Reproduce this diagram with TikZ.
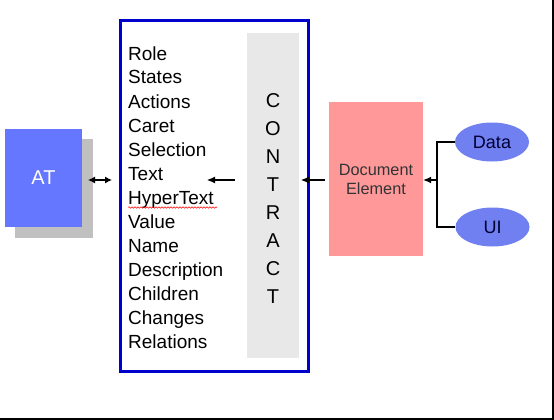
\documentclass[tikz,border=0pt]{standalone}
\usepackage{fontspec}
\setmainfont{Liberation Sans}
\usetikzlibrary{arrows.meta,shapes.geometric,decorations.pathmorphing}
\definecolor{atblue}{RGB}{102,119,255}
\definecolor{ellblue}{RGB}{112,128,240}
\definecolor{shadowgray}{RGB}{192,192,192}
\definecolor{contractgray}{RGB}{232,232,232}
\definecolor{docpink}{RGB}{255,153,153}
\definecolor{boxblue}{RGB}{0,0,204}
\tikzset{
  listitem/.style={anchor=base west,inner sep=0pt,font=\fontsize{19}{24}\selectfont},
  letter/.style={anchor=base,inner sep=0pt,font=\fontsize{20}{24}\selectfont},
  ell/.style={ellipse,fill=ellblue,minimum width=74pt,minimum height=39pt,inner sep=0pt,
    text=black!80!blue,font=\fontsize{18}{20}\selectfont},
  arr/.style={-{Latex[length=8pt,width=7pt]},line width=1.1pt},
}
\begin{document}
\begin{tikzpicture}[x=1pt,y=-1pt]
\useasboundingbox (0,0) rectangle (554,420);
\fill[white] (0,0) rectangle (554,420);
% frame lines
\draw[line width=1.6pt] (553,0) -- (553,419.2) -- (0,419.2);
% AT
\fill[shadowgray] (15,139) rectangle (93,238);
\node[fill=atblue,minimum width=77pt,minimum height=98pt,inner sep=0pt,text=white,
  font=\fontsize{20}{24}\selectfont] (at) at (43.5,178) {AT};
% contract box
\draw[boxblue,line width=3pt,fill=white] (120,21) rectangle (308,371);
\node[fill=contractgray,minimum width=52pt,minimum height=325pt,inner sep=0pt] (contract) at (273,195.5) {};
\foreach \L [count=\i from 0] in {C,O,N,T,R,A,C,T}
  \node[letter] (c\i) at (273,107+28*\i) {\L};
\foreach \t [count=\i from 0] in {Role,States,Actions,Caret,Selection,Text,HyperText,Value,Name,Description,Children,Changes,Relations}
  \node[listitem] (l\i) at (128,60+24*\i) {\t};
\draw[red,line width=0.5pt,decorate,decoration={snake,amplitude=0.8pt,segment length=3pt}]
  (l6.base west) ++(0,3.5) -- ++(89,0);
\coordinate (txtarr) at (235,180);
\coordinate (txttip) at (207,180);
\draw[arr] (txtarr) -- (txttip);
% double arrow
\coordinate (dl) at (88,180);
\coordinate (dr) at (112,180);
\draw[{Latex[length=7pt,width=7pt]}-{Latex[length=7pt,width=7pt]},line width=1.1pt] (dl) -- (dr);
% Document element
\node[fill=docpink,minimum width=94pt,minimum height=154pt,inner sep=0pt,align=center,
  text=black!80,font=\fontsize{16.3}{19}\selectfont] (doc) at (376,179) {Document\\Element};
\coordinate (cin) at (301,180);
\draw[arr] ([xshift=-4pt]doc.west |- 0,180) -- (cin);
% Data, UI
\node[ell] (data) at (492,142) {Data};
\node[ell] (ui) at (492.5,227) {UI};
\coordinate (br) at (437,180);
\draw[line width=1.1pt] (data.west) -- (437,142) -- (437,227) -- (ui.west);
\draw[arr] (br) -- (doc.east |- br);
\end{tikzpicture}
\end{document}
